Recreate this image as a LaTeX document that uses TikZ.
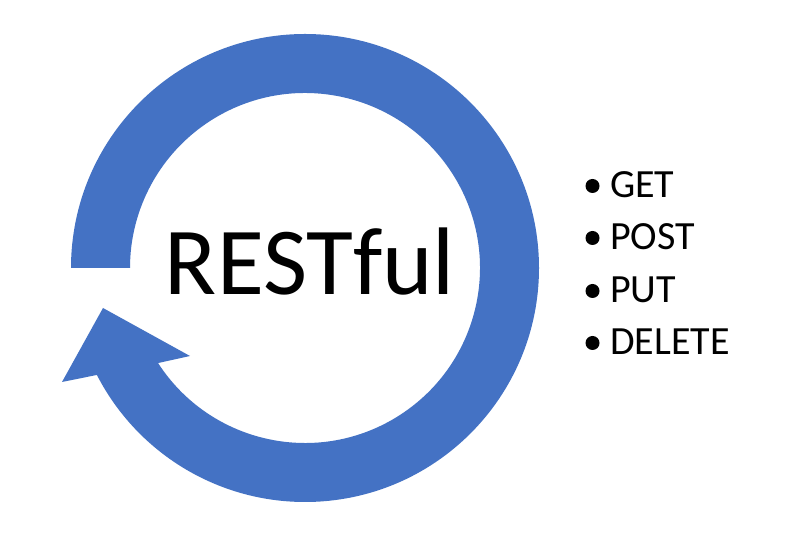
\documentclass[tikz,border=0pt]{standalone}
\usepackage{fontspec}
\usetikzlibrary{calc}
\setmainfont{Carlito}
\definecolor{ringblue}{HTML}{4472C4}
\begin{document}
\begin{tikzpicture}[x=1pt,y=1pt,
  ring/.style={fill=ringblue},
  title/.style={inner sep=0pt,anchor=base,font=\fontsize{96}{96}\selectfont},
  item/.style={inner sep=0pt,anchor=base west,font=\fontsize{40}{40}\selectfont},
  dot/.style={fill=black,circle,inner sep=0pt,minimum size=14pt}]
\useasboundingbox (0,0) rectangle (790,535);
\fill[white] (0,0) rectangle (790,535);
\coordinate (C) at (305,267);
\coordinate (barbL) at (62,153);
\coordinate (tip) at (103,227);
\coordinate (barbR) at (190,179);
% circular arrow
\fill[ring] ($(C)+(180:234)$) arc[start angle=180,end angle=-152.8,radius=234]
  -- (barbL) -- (tip) -- (barbR)
  -- ($(C)+(-147.1:175)$) arc[start angle=-147.1,end angle=180,radius=175] -- cycle;
\node[title] (rest) at (310,240) {RESTful};
% list
\node[item] (get) at (610,337) {GET};
\node[item] (post) at (610,285) {POST};
\node[item] (put) at (610,232) {PUT};
\node[item] (del) at (610,180) {DELETE};
\node[dot] (b1) at (592.5,349) {};
\node[dot] (b2) at (592.5,297) {};
\node[dot] (b3) at (592.5,244) {};
\node[dot] (b4) at (592.5,192) {};
\end{tikzpicture}
\end{document}
